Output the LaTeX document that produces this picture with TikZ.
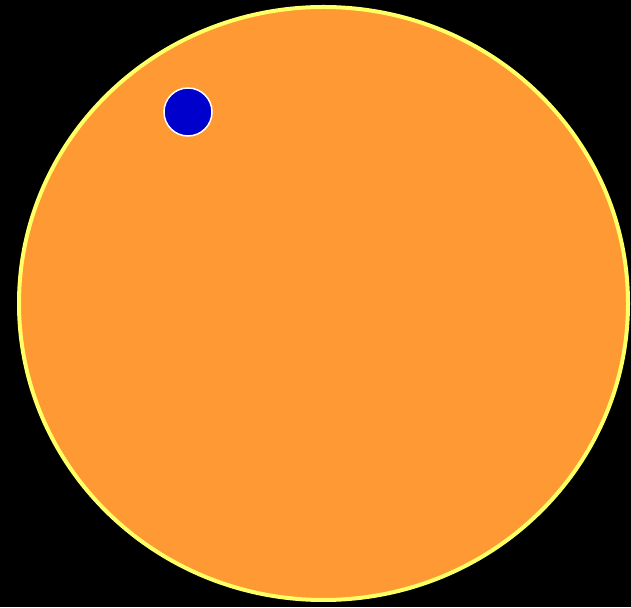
\documentclass[tikz,border=0pt]{standalone}
\usetikzlibrary{shapes.geometric}
\definecolor{sunorange}{HTML}{FF9933}
\definecolor{rimyellow}{HTML}{FFFF66}
\definecolor{dotblue}{HTML}{0000CC}

\begin{document}
\begin{tikzpicture}[x=1pt,y=1pt,
  disc/.style={ellipse,fill=sunorange,draw=rimyellow,line width=4pt,
               minimum width=609pt,minimum height=593pt,inner sep=0pt},
  spot/.style={circle,fill=dotblue,draw=white,line width=1.5pt,
               minimum size=48pt,inner sep=0pt}]
\fill[black] (0,0) rectangle (631,607);
\useasboundingbox (0,0) rectangle (631,607);
\node[disc] (sun) at (323.5,303.5) {};
\node[spot] (dot) at (188,495) {};
\end{tikzpicture}
\end{document}
